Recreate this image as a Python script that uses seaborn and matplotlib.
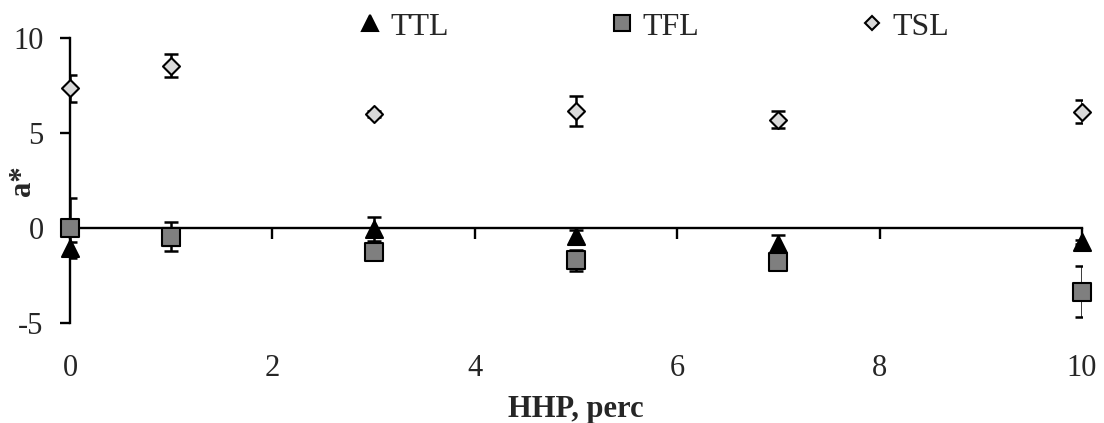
import matplotlib
matplotlib.use("Agg")
import matplotlib.pyplot as plt
import seaborn as sns
import pandas as pd

x_vals = [0, 1, 3, 5, 7, 10]
ttl = [-1.05, -0.45, -0.05, -0.4, -0.85, -0.75]
ttl_err = [0.3, 0.3, 0.65, 0.3, 0.5, 0.1]
tfl = [0.0, -0.45, -1.25, -1.7, -1.8, -3.35]
tfl_err = [1.6, 0.75, 0.1, 0.55, 0.1, 1.35]
tsl = [7.35, 8.55, 6.0, 6.17, 5.7, 6.12]
tsl_err = [0.7, 0.6, 0.15, 0.8, 0.45, 0.6]
series_names = ["TTL", "TFL", "TSL"]
x_ticks = [0, 2, 4, 6, 8, 10]
y_ticks = [-5, 0, 5, 10]

sns.set_theme(style="white")
plt.rcParams["font.family"] = ["Liberation Serif", "DejaVu Serif"]
plt.rcParams["axes.unicode_minus"] = False

df = pd.DataFrame({
    "x": x_vals * 3,
    "y": ttl + tfl + tsl,
    "err": ttl_err + tfl_err + tsl_err,
    "series": [s for s in series_names for _ in x_vals],
})

styles = {
    "TTL": dict(marker="^", color="black", edge="black", size=150),
    "TFL": dict(marker="s", color="#7f7f7f", edge="black", size=150),
    "TSL": dict(marker="D", color="#d9d9d9", edge="black", size=75),
}

fig = plt.figure(figsize=(11.04, 4.23), dpi=100)
ax = fig.add_axes([70 / 1104, 1 - 323 / 423, (1082 - 70) / 1104, (323 - 38) / 423])

handles = []
for name in series_names:
    sub = df[df["series"] == name]
    st = styles[name]
    ax.errorbar(sub["x"], sub["y"], yerr=sub["err"], fmt="none", ecolor="black",
                elinewidth=1.8, capsize=5, capthick=1.8, zorder=3)
    sns.scatterplot(data=sub, x="x", y="y", marker=st["marker"], color=st["color"],
                    edgecolor=st["edge"], linewidth=1.5, s=st["size"], ax=ax,
                    zorder=4, clip_on=False, legend=False)
    h = plt.Line2D([], [], marker=st["marker"], color="none", markerfacecolor=st["color"],
                   markeredgecolor=st["edge"], markeredgewidth=1.5,
                   markersize=11 if name != "TSL" else 7.5)
    handles.append(h)

ax.set_xlim(0, 10)
ax.set_ylim(-5, 10)

for side in ["top", "right", "bottom"]:
    ax.spines[side].set_visible(False)
ax.spines["left"].set_color("black")
ax.spines["left"].set_linewidth(1.7)

ax.set_yticks(y_ticks)
ax.set_yticklabels([str(v) for v in y_ticks])
ax.tick_params(axis="y", direction="out", length=7, width=1.7, color="black",
               labelsize=22, pad=12, left=True)

ax.set_xticks(x_ticks)
ax.set_xticklabels([str(v) for v in x_ticks])
ax.tick_params(axis="x", length=0, labelsize=22, pad=22, bottom=True)

sec = ax.secondary_xaxis(1 / 3)
sec.set_xticks(x_ticks)
sec.tick_params(axis="x", direction="out", length=8, width=1.7, color="black",
                labelbottom=False, labeltop=False, bottom=True)
sec.spines["bottom"].set_linewidth(1.7)
sec.spines["bottom"].set_color("black")

ax.set_xlabel("HHP, perc", fontsize=22, fontweight="bold")
ax.xaxis.set_label_coords(0.5, -0.252)
ax.set_ylabel("a*", fontsize=22, fontweight="bold")
ax.yaxis.set_label_coords(-0.033, 0.5)

fig.legend(handles, series_names, loc="center", bbox_to_anchor=(653 / 1104, 1 - 27 / 423),
           ncol=3, frameon=False, fontsize=23, handlelength=0.8, handletextpad=0.25,
           columnspacing=5.0, borderpad=0)

fig.savefig("out.png", dpi=100)
